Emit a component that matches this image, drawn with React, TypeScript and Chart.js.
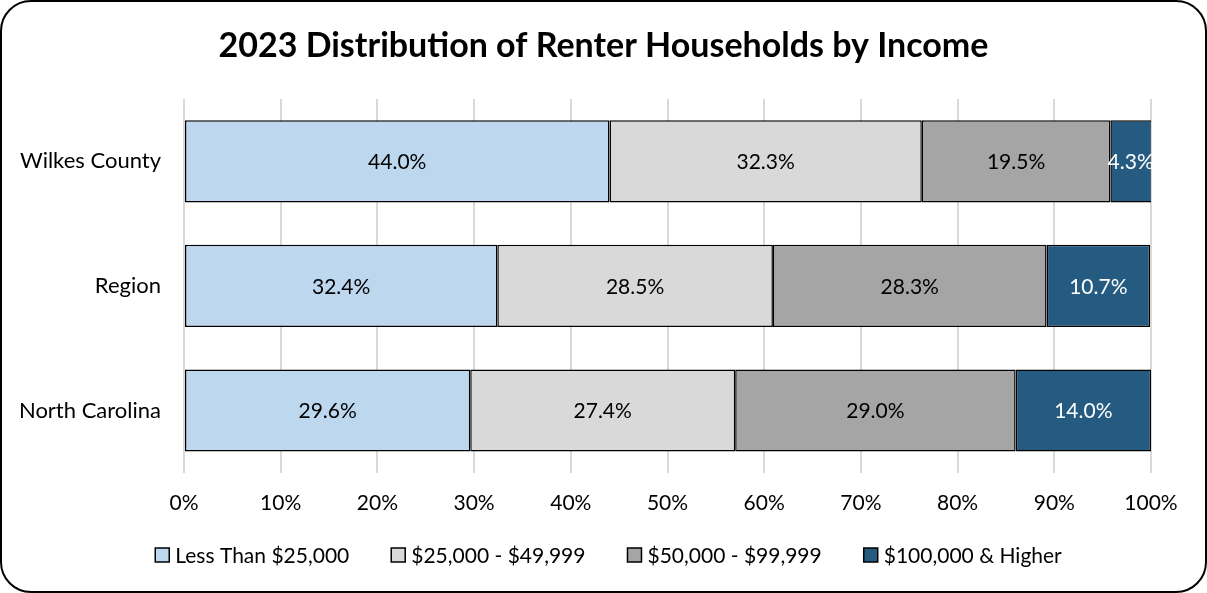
import React, { useEffect, useRef } from "react";
import { Chart, registerables } from "chart.js";

Chart.register(...registerables);

const title = "2023 Distribution of Renter Households by Income";
const categories = ["Wilkes County", "Region", "North Carolina"];
const seriesNames = ["Less Than $25,000", "$25,000 - $49,999", "$50,000 - $99,999", "$100,000 & Higher"];
const lessThan25k = [44.0, 32.4, 29.6];
const from25kTo50k = [32.3, 28.5, 27.4];
const from50kTo100k = [19.5, 28.3, 29.0];
const over100k = [4.3, 10.7, 14.0];
const xTicks = [0, 10, 20, 30, 40, 50, 60, 70, 80, 90, 100];

const FONT = "Lato, 'Open Sans', sans-serif";
const colors = ["#BDD7EE", "#D9D9D9", "#A5A5A5", "#255B80"];
const labelColors = ["#000000", "#000000", "#000000", "#FFFFFF"];

const borderPlugin = {
  id: "roundBorder",
  afterDraw(chart: any) {
    const ctx = chart.ctx;
    ctx.save();
    ctx.strokeStyle = "#000";
    ctx.lineWidth = 2;
    ctx.beginPath();
    ctx.roundRect(1, 1, chart.width - 2, chart.height - 2, 30);
    ctx.stroke();
    ctx.restore();
  },
};

const titlePlugin = {
  id: "centerTitle",
  afterDraw(chart: any) {
    const ctx = chart.ctx;
    ctx.save();
    ctx.font = `bold 34px ${FONT}`;
    ctx.textAlign = "center";
    ctx.textBaseline = "middle";
    ctx.fillStyle = "#000";
    ctx.fillText(title, chart.width / 2, 46);
    ctx.restore();
  },
};

const legendPlugin = {
  id: "customLegend",
  afterDraw(chart: any) {
    const ctx = chart.ctx;
    ctx.save();
    ctx.font = `21px ${FONT}`;
    ctx.textBaseline = "middle";
    ctx.textAlign = "left";
    const box = 14;
    const gapText = 6;
    const gapItem = 42;
    const items = chart.data.datasets.map((ds: any) => ({
      label: ds.label,
      color: ds.backgroundColor,
      w: box + gapText + ctx.measureText(ds.label).width,
    }));
    const total = items.reduce((s: number, it: any) => s + it.w, 0) + gapItem * (items.length - 1);
    let x = chart.width / 2 + 5 - total / 2;
    const y = 555;
    items.forEach((it: any) => {
      ctx.fillStyle = it.color;
      ctx.fillRect(x, y - box / 2, box, box);
      ctx.strokeStyle = "#000";
      ctx.lineWidth = 1.5;
      ctx.strokeRect(x, y - box / 2, box, box);
      ctx.fillStyle = "#000";
      ctx.fillText(it.label, x + box + gapText, y + 1);
      x += it.w + gapItem;
    });
    ctx.restore();
  },
};

const dataLabelPlugin = {
  id: "dataLabels",
  afterDatasetsDraw(chart: any) {
    const ctx = chart.ctx;
    ctx.save();
    ctx.font = `21px ${FONT}`;
    ctx.textAlign = "center";
    ctx.textBaseline = "middle";
    chart.data.datasets.forEach((ds: any, di: number) => {
      const meta = chart.getDatasetMeta(di);
      meta.data.forEach((bar: any, i: number) => {
        const v = ds.data[i];
        const right = Math.min(bar.x, chart.chartArea.right);
        const cx = (right + bar.base) / 2;
        ctx.fillStyle = labelColors[di];
        ctx.fillText(v.toFixed(1) + "%", cx, bar.y + 1);
      });
    });
    ctx.restore();
  },
};

export default function App() {
  const ref = useRef<HTMLCanvasElement>(null);
  useEffect(() => {
    document.body.style.margin = "0";
    const seriesData = [lessThan25k, from25kTo50k, from50kTo100k, over100k];
    const chart = new Chart(ref.current!, {
      type: "bar",
      data: {
        labels: categories,
        datasets: seriesNames.map((name, i) => ({
          label: name,
          data: seriesData[i],
          backgroundColor: colors[i],
          borderColor: "#000000",
          borderWidth: 1.5,
          borderSkipped: false,
          categoryPercentage: 1,
          barPercentage: 0.66,
        })),
      },
      options: {
        indexAxis: "y",
        responsive: false,
        animation: false,
        events: [],
        layout: { padding: { left: 10, right: 56, top: 99, bottom: 59 } },
        scales: {
          x: {
            stacked: true,
            min: 0,
            max: 100,
            afterBuildTicks(scale: any) {
              scale.ticks = xTicks.map((v) => ({ value: v }));
            },
            ticks: {
              callback: (v: any) => v + "%",
              color: "#000",
              font: { family: FONT, size: 21 },
              padding: 18,
            },
            grid: { color: "#D9D9D9", lineWidth: 2, drawTicks: false },
            border: { display: false },
          },
          y: {
            stacked: true,
            afterFit(scale: any) {
              scale.width = 174;
            },
            ticks: {
              color: "#000",
              font: { family: FONT, size: 22 },
              padding: 23,
            },
            grid: { display: false, drawTicks: false },
            border: { display: false },
          },
        },
        plugins: {
          title: { display: false },
          legend: { display: false },
          tooltip: { enabled: false },
        },
      },
      plugins: [dataLabelPlugin, titlePlugin, legendPlugin, borderPlugin],
    } as any);
    return () => chart.destroy();
  }, []);
  return (
    <div style={{ position: "absolute", left: 0, top: 0, width: 1207, height: 593, background: "#fff" }}>
      <canvas ref={ref} width={1207} height={593} />
    </div>
  );
}
